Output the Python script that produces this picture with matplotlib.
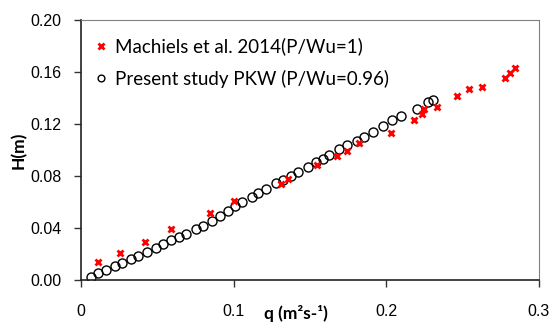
import matplotlib.pyplot as plt
import numpy as np

# Machiels et al. 2014 (P/Wu=1)
q_mach = [0.0111, 0.0255, 0.0419, 0.0589, 0.0845, 0.1002, 0.1310, 0.1356, 0.1546,
          0.1677, 0.1742, 0.1821, 0.2030, 0.2181, 0.2233, 0.2246, 0.2331, 0.2462,
          0.2541, 0.2626, 0.2777, 0.2809, 0.2842]
h_mach = [0.0138, 0.0208, 0.0292, 0.0392, 0.0515, 0.0608, 0.0738, 0.0777, 0.0885,
          0.0954, 0.0992, 0.1054, 0.1131, 0.1231, 0.1277, 0.1315, 0.1331, 0.1415,
          0.1469, 0.1485, 0.1554, 0.1592, 0.1631]

# Present study PKW (P/Wu=0.96)
q_pkw = [0.0065, 0.0113, 0.0164, 0.0223, 0.0268, 0.0327, 0.0373, 0.0432, 0.0491,
         0.0537, 0.0589, 0.0642, 0.0688, 0.0753, 0.0799, 0.0858, 0.0910, 0.0963,
         0.1008, 0.1054, 0.1120, 0.1160, 0.1211, 0.1277, 0.1323, 0.1375, 0.1421,
         0.1487, 0.1539, 0.1585, 0.1624, 0.1690, 0.1742, 0.1808, 0.1853, 0.1912,
         0.1978, 0.2037, 0.2096, 0.2200, 0.2272, 0.2305]
h_pkw = [0.0023, 0.0054, 0.0077, 0.0108, 0.0131, 0.0162, 0.0185, 0.0215, 0.0246,
         0.0277, 0.0308, 0.0331, 0.0354, 0.0392, 0.0415, 0.0454, 0.0492, 0.0531,
         0.0569, 0.0600, 0.0638, 0.0669, 0.0700, 0.0746, 0.0769, 0.0800, 0.0831,
         0.0869, 0.0908, 0.0931, 0.0962, 0.1008, 0.1038, 0.1069, 0.1100, 0.1138,
         0.1185, 0.1231, 0.1262, 0.1315, 0.1369, 0.1385]

xticks = [0, 0.1, 0.2, 0.3]
xticklabels = ["0", "0.1", "0.2", "0.3"]
yticks = [0.0, 0.04, 0.08, 0.12, 0.16, 0.20]

plt.rcParams['font.family'] = ['Liberation Sans', 'DejaVu Sans']

fig = plt.figure(figsize=(5.51, 3.22), dpi=100)
ax = fig.add_axes([0.147, 0.130, 0.831, 0.808])

ax.plot(q_mach, h_mach, 'x', color='red', ms=5, mew=2,
        label='Machiels et al. 2014(P/Wu=1)', zorder=3)
ax.plot(q_pkw, h_pkw, 'o', mfc='none', mec='black', ms=6.5, mew=1,
        label='Present study PKW (P/Wu=0.96)', zorder=2)

ax.set_xlim(0, 0.3)
ax.set_ylim(0, 0.2)
ax.set_xticks(xticks)
ax.set_xticklabels(xticklabels)
ax.set_yticks(yticks)
ax.set_yticklabels([f"{v:.2f}" for v in yticks])
ax.tick_params(direction='out', length=5, width=1, labelsize=11.5,
               color='#333333', pad=9)
ax.tick_params(axis='x', pad=12)

for s in ['top', 'right']:
    ax.spines[s].set_color('#808080')
for s in ['left', 'bottom']:
    ax.spines[s].set_color('#222222')
    ax.spines[s].set_linewidth(1.2)

ax.set_xlabel('q (m²s-¹)', fontsize=12.5, fontweight='bold', family='Lato')
ax.xaxis.set_label_coords(0.469, -0.096)
ax.set_ylabel('H(m)', fontsize=12.5, fontweight='bold', family='Lato')
ax.yaxis.set_label_coords(-0.118, 0.5)

ax.legend(loc='upper left', bbox_to_anchor=(0.0, 0.975), frameon=False,
          prop={'family': 'Lato', 'size': 13.5}, markerscale=0.75,
          handletextpad=0.3, handlelength=0.9, labelspacing=0.75,
          borderaxespad=0.2)

fig.savefig('out.png', dpi=100)
